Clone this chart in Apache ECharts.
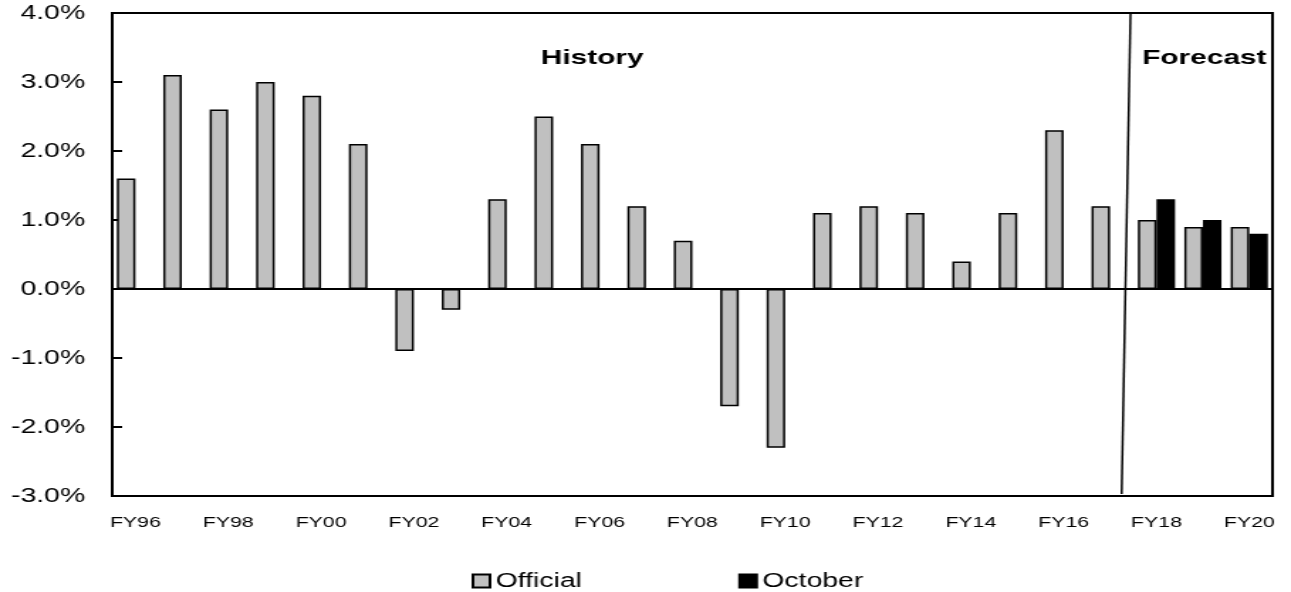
<!DOCTYPE html>
<html><head><meta charset="utf-8">
<script src="https://cdn.jsdelivr.net/npm/echarts@6/dist/echarts.min.js"></script>
<style>html,body{margin:0;padding:0;background:#fff;overflow:hidden}
#c{width:909px;height:592px;transform:scaleX(1.4202);transform-origin:0 0}</style>
</head><body><div id="c"></div>
<script>
const categories = ['FY96','FY97','FY98','FY99','FY00','FY01','FY02','FY03','FY04','FY05','FY06','FY07','FY08','FY09','FY10','FY11','FY12','FY13','FY14','FY15','FY16','FY17','FY18','FY19','FY20'];
const official = [1.6,3.1,2.6,3.0,2.8,2.1,-0.9,-0.3,1.3,2.5,2.1,1.2,0.7,-1.7,-2.3,1.1,1.2,1.1,0.4,1.1,2.3,1.2,1.0,0.9,0.9];
const october = [null,null,null,null,null,null,null,null,null,null,null,null,null,null,null,null,null,null,null,null,null,null,1.3,1.0,0.8];
const yTicks = {min:-3, max:4, interval:1};

(function(){
const chart = echarts.init(document.getElementById('c'));
const font = 'Liberation Sans, Arial, sans-serif';
chart.setOption({
  animation:false,
  grid:{left:79,right:13,top:13,bottom:96,show:true,borderColor:'#000',borderWidth:2},
  legend:{top:566,left:327,itemGap:110,itemWidth:12,itemHeight:13,
    textStyle:{fontFamily:font,fontSize:20,color:'#000',padding:[0,0,0,-1]},
    data:[{name:'Official',icon:'rect'},{name:'October',icon:'rect'}]},
  xAxis:{type:'category',data:categories,
    axisLine:{onZero:false,lineStyle:{color:'#000',width:2}},
    axisTick:{show:false},
    axisLabel:{interval:1,fontFamily:font,fontSize:15,color:'#000',margin:19}},
  yAxis:{type:'value',min:yTicks.min,max:yTicks.max,interval:yTicks.interval,
    axisLine:{show:true,lineStyle:{color:'#000',width:2}},
    axisTick:{show:true,inside:true,length:7,lineStyle:{color:'#000',width:2}},
    splitLine:{show:false},
    axisLabel:{formatter:v=>v.toFixed(1)+'%',fontFamily:font,fontSize:20,color:'#000',margin:19}},
  series:[
    {name:'Official',type:'bar',data:official,barGap:'0%',barCategoryGap:'20%',
     itemStyle:{color:'#c0c0c0',borderColor:'#000',borderWidth:1.5},
     markLine:{silent:true,symbol:'none',label:{show:false},
       lineStyle:{color:'#000',width:2,type:'solid'},data:[{yAxis:0}]}},
    {name:'October',type:'bar',data:october,
     itemStyle:{color:'#000',borderColor:'#000',borderWidth:1.5}}
  ]
});

function px(idx, val){
  const a = chart.convertToPixel({gridIndex:0},[Math.floor(idx),val]);
  const b = chart.convertToPixel({gridIndex:0},[Math.floor(idx)+1,val]);
  const f = idx-Math.floor(idx);
  return [a[0]+(b[0]-a[0])*f, a[1]];
}
const pTop = px(21.44, 4), pBot = px(21.25, -2.97);
const hist = px(9.84, 3.34), fc = px(23.03, 3.34);
chart.setOption({graphic:[
  {type:'line',shape:{x1:pTop[0],y1:pTop[1],x2:pBot[0],y2:pBot[1]},style:{stroke:'#000',lineWidth:1.5}},
  {type:'text',x:hist[0],y:hist[1],style:{text:'History',font:'bold 21px '+font,fill:'#000',textAlign:'center',textVerticalAlign:'middle'}},
  {type:'text',x:fc[0],y:fc[1],style:{text:'Forecast',font:'bold 21px '+font,fill:'#000',textAlign:'center',textVerticalAlign:'middle'}}
]});
})();
</script></body></html>
